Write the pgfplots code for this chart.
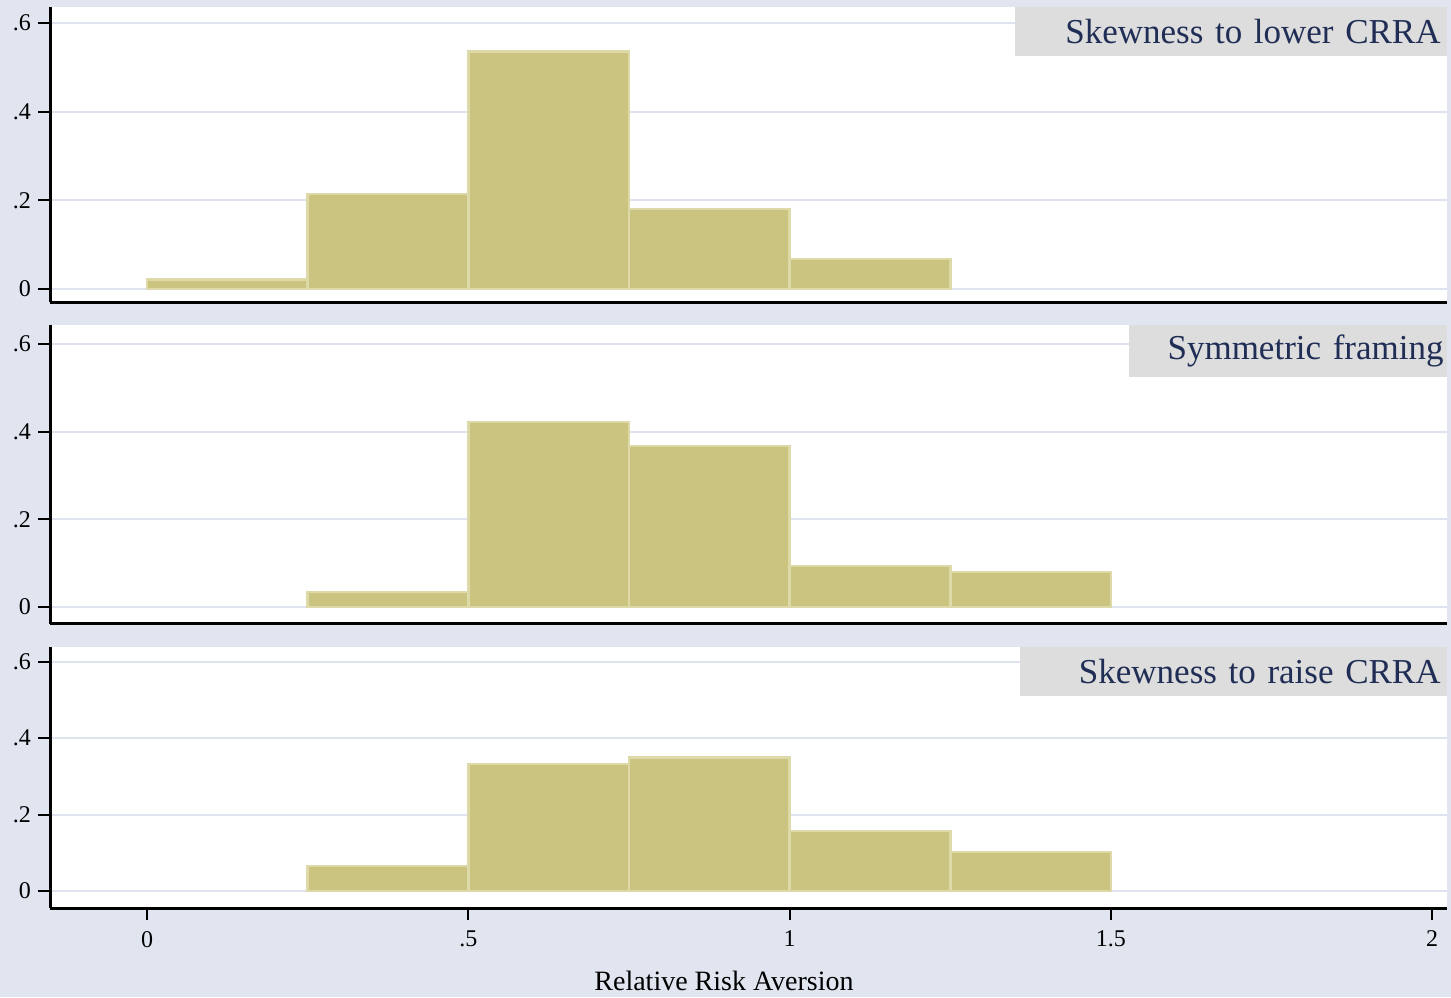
\documentclass[border=0pt]{standalone}
\usepackage{pgfplots}
\pgfplotsset{compat=1.18}
\usepackage{fontspec}
\setmainfont{Liberation Serif}
\definecolor{bg}{RGB}{224,229,240}
\definecolor{gridc}{RGB}{222,227,239}
\definecolor{boxg}{RGB}{221,221,221}
\definecolor{navy}{RGB}{32,46,86}
\definecolor{barf}{RGB}{203,196,128}
\definecolor{bare}{RGB}{222,217,168}
\pgfplotsset{
  panel/.style={
    scale only axis, width=698.5pt,
    xmin=-0.151, xmax=2.023,
    axis x line*=bottom, axis y line*=left,
    axis line style={-, black, line width=1.5pt},
    axis background/.style={fill=white},
    ymajorgrids, major grid style={gridc, line width=1pt},
    ytick={0,0.2,0.4,0.6}, yticklabels={0,.2,.4,.6},
    tick align=outside, major tick length=6pt,
    tick style={black, line width=1pt},
    /pgf/number format/assume math mode=true,
    tick label style={font=\fontsize{12}{14}\selectfont, black},
    xticklabel style={yshift=-2pt},
    ytick pos=left, xtick pos=bottom,
  },
  bars/.style={ybar interval, fill=barf, draw=bare, line width=1.3pt},
}
\tikzset{
  ttl/.style={anchor=north east, fill=boxg, text=navy, inner xsep=3pt, inner ysep=0pt,
    align=right, font=\fontsize{17.5}{20}\selectfont},
}
\begin{document}
\begin{tikzpicture}
\useasboundingbox (0,0) rectangle (725.5pt,498.5pt);
\fill[bg] (0,0) rectangle (725.5pt,498.5pt);
% Panel 1
\begin{axis}[panel, height=147.5pt, at={(25pt,495pt)}, anchor=north west,
  ymin=-0.0293, ymax=0.636, xtick=\empty]
\addplot[bars] coordinates {(0,0.021) (0.25,0.214) (0.5,0.536) (0.75,0.18) (1,0.068) (1.25,0)};
\node[ttl, minimum height=24.5pt, text width=210pt] at (rel axis cs:1,1) {Skewness to lower CRRA};
\end{axis}
% Panel 2
\begin{axis}[panel, height=149.5pt, at={(25pt,336pt)}, anchor=north west,
  ymin=-0.0388, ymax=0.6433, xtick=\empty]
\addplot[bars] coordinates {(0.25,0.034) (0.5,0.422) (0.75,0.367) (1,0.0935) (1.25,0.08) (1.5,0)};
\node[ttl, minimum height=26pt, text width=153pt, inner xsep=1.5pt, text width=156pt] at (rel axis cs:1,1) {Symmetric framing};
\end{axis}
% Panel 3
\begin{axis}[panel, height=130.5pt, at={(25pt,175pt)}, anchor=north west,
  ymin=-0.0445, ymax=0.639,
  xtick={0,0.5,1,1.5,2}, xticklabels={0,.5,1,1.5,2}]
\addplot[bars] coordinates {(0.25,0.0655) (0.5,0.333) (0.75,0.349) (1,0.157) (1.25,0.102) (1.5,0)};
\node[ttl, minimum height=24.5pt, text width=207.5pt] at (rel axis cs:1,1) {Skewness to raise CRRA};
\end{axis}
\node[anchor=base, font=\fontsize{14}{16}\selectfont] at (362pt,3.5pt) {Relative Risk Aversion};
\end{tikzpicture}
\end{document}
